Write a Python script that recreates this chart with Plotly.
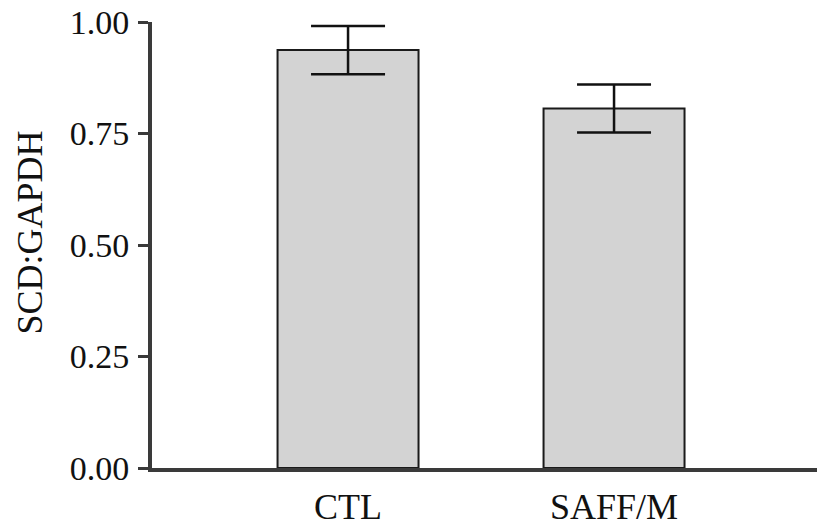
import plotly.graph_objects as go

# Group means and SEM
categories = ["CTL", "SAFF/M"]
means = [0.937, 0.806]
errors = [0.054, 0.054]

y_ticks = [0.0, 0.25, 0.5, 0.75, 1.0]
y_tick_labels = ["0.00", "0.25", "0.50", "0.75", "1.00"]

SERIF = "Liberation Serif, Times New Roman, serif"
INK = "#111111"

fig = go.Figure()
fig.add_trace(go.Bar(
    x=categories,
    y=means,
    width=0.53,
    marker=dict(color="#d3d3d3", line=dict(color="#1a1a1a", width=2)),
    error_y=dict(type="data", array=errors, visible=True,
                 color=INK, thickness=2.5, width=37),
    showlegend=False,
))

fig.update_layout(
    width=817, height=527,
    margin=dict(l=152, r=0, t=22, b=56),
    paper_bgcolor="white", plot_bgcolor="white",
    font=dict(family=SERIF, color=INK),
    bargap=0.47,
    xaxis=dict(
        range=[-0.737, 1.763],
        showline=True, linecolor="#3a3a3a", linewidth=4,
        ticks="", showgrid=False, zeroline=False,
        tickfont=dict(size=36, family=SERIF, color=INK),
        ticklabelstandoff=4,
    ),
    yaxis=dict(
        range=[0, 1],
        tickvals=y_ticks, ticktext=y_tick_labels,
        showline=True, linecolor="#3a3a3a", linewidth=4,
        ticks="outside", ticklen=10, tickwidth=2.5, tickcolor="#3a3a3a",
        showgrid=False, zeroline=False,
        tickfont=dict(size=34, family=SERIF, color=INK),
        ticklabelstandoff=2,
    ),
    annotations=[dict(
        text="SCD:GAPDH", textangle=-90,
        xref="paper", yref="paper",
        x=-0.1835, y=0.528, xanchor="center", yanchor="middle",
        showarrow=False,
        font=dict(size=36, family=SERIF, color=INK),
    )],
)

fig.write_html("out.html")
